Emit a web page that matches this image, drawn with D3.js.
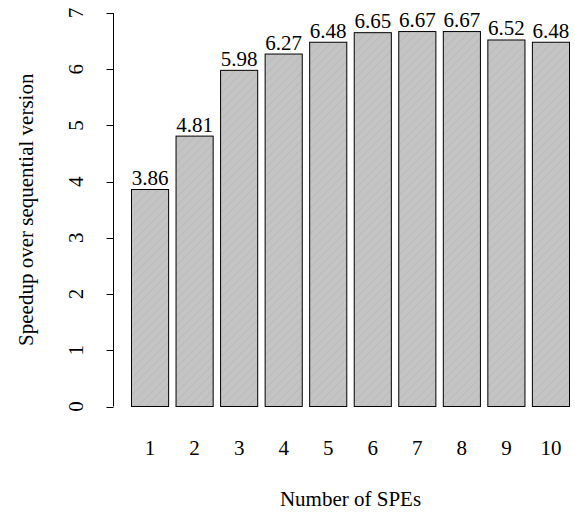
<!DOCTYPE html>
<html><head><meta charset="utf-8">
<script src="https://cdn.jsdelivr.net/npm/d3@7"></script>
<style>body{margin:0;background:#fff}svg{display:block}text{font-family:"Liberation Serif","Times New Roman",serif;fill:#000}</style>
</head><body>
<svg id="c" width="575" height="512"></svg>
<script>
const categories = ["1","2","3","4","5","6","7","8","9","10"];
const speedup = [3.86, 4.81, 5.98, 6.27, 6.48, 6.65, 6.67, 6.67, 6.52, 6.48];
const yTicks = [0,1,2,3,4,5,6,7];
const xTitle = "Number of SPEs";
const yTitle = "Speedup over sequential version";

const svg = d3.select("#c");
const defs = svg.append("defs");
const pat = defs.append("pattern").attr("id","hatch").attr("patternUnits","userSpaceOnUse")
  .attr("width",6).attr("height",6).attr("patternTransform","rotate(45)");
pat.append("rect").attr("width",6).attr("height",6).attr("fill","#c4c4c4");
pat.append("line").attr("x1",0).attr("y1",0).attr("x2",0).attr("y2",6).attr("stroke","#b6b6b6").attr("stroke-width",1.2);

const x = d3.scaleLinear().domain([0.2, 12]).range([131.5, 569.5]);
const y = d3.scaleLinear().domain([0, 7]).range([406.5, 13]);
const fs = 21;

const g = svg.append("g");
g.selectAll("rect.bar").data(speedup).enter().append("rect").attr("class","bar")
  .attr("x",(d,i)=>x(0.2+i*1.2)).attr("width",(d,i)=>x(1.2+i*1.2)-x(0.2+i*1.2))
  .attr("y",d=>y(d)).attr("height",d=>y(0)-y(d))
  .attr("fill","url(#hatch)").attr("stroke","#000").attr("stroke-width",1);

g.selectAll("text.val").data(speedup).enter().append("text").attr("class","val")
  .attr("x",(d,i)=>x(0.7+i*1.2)).attr("y",d=>y(d)-4.5)
  .attr("text-anchor","middle").attr("font-size",fs).text(d=>d.toFixed(2));

g.selectAll("text.cat").data(categories).enter().append("text").attr("class","cat")
  .attr("x",(d,i)=>x(0.7+i*1.2)).attr("y",455)
  .attr("text-anchor","middle").attr("font-size",fs).text(d=>d);

const ax = svg.append("g");
ax.append("line").attr("x1",113.5).attr("x2",113.5).attr("y1",y(0)).attr("y2",y(7)).attr("stroke","#000");
yTicks.forEach(t=>{
  ax.append("line").attr("x1",106.5).attr("x2",113.5).attr("y1",Math.round(y(t))+0.5).attr("y2",Math.round(y(t))+0.5).attr("stroke","#000");
  ax.append("text").attr("transform",`translate(83,${y(t)}) rotate(-90)`).attr("text-anchor","middle")
    .attr("font-size",fs).text(t);
});

svg.append("text").attr("x",x(6.1)).attr("y",506).attr("text-anchor","middle").attr("font-size",fs).text(xTitle);
svg.append("text").attr("transform",`translate(33,${y(3.5)}) rotate(-90)`).attr("text-anchor","middle").attr("font-size",fs).text(yTitle);
</script>
</body></html>
